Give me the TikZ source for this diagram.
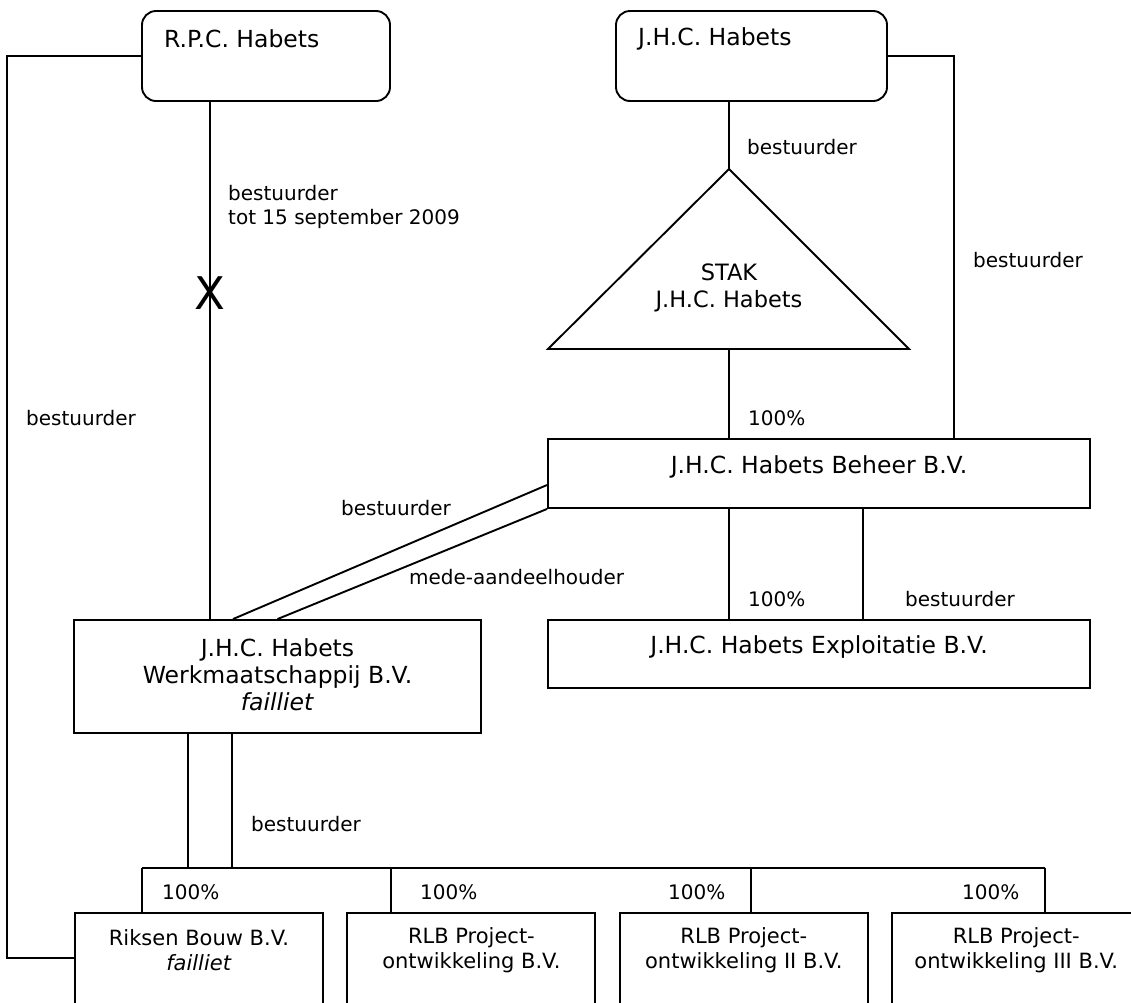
\documentclass[tikz,border=0pt]{standalone}
\usepackage{fontspec}
\setmainfont{DejaVu Sans}
\usetikzlibrary{positioning}

\tikzset{
    entity/.style={draw, line width=1.9pt, inner sep=0pt},
    person/.style={entity, rounded corners=14pt, minimum height=90pt},
    subsid/.style={entity, minimum width=248pt, minimum height=127pt},
    link/.style={line width=1.9pt},
    title/.style={font=\fontsize{23.5}{27}\selectfont, inner sep=0pt},
    lbl/.style={font=\fontsize{20}{24}\selectfont, inner sep=0pt, anchor=west},
    subtxt/.style={font=\fontsize{21}{24.5}\selectfont, inner sep=0pt, align=center}
}

\begin{document}
\begin{tikzpicture}[x=1pt, y=-1pt]
    \useasboundingbox (0,0) rectangle (1131,1002);
    \clip (0,0) rectangle (1131,1002);

    % persons
    \node[person, minimum width=248pt] (rpc) at (266,56) {};
    \node[person, minimum width=271pt] (jhc) at (751.5,56) {};
    \node[title, anchor=west] (rpctxt) at (164,39) {R.P.C. Habets};
    \node[title, anchor=west] (jhctxt) at (638,39) {J.H.C. Habets};

    % stak
    \coordinate (staktop) at (729,169);
    \coordinate (stakleft) at (548,349);
    \coordinate (stakright) at (909,349);
    \draw[link] (staktop) -- (stakleft) -- (stakright) -- cycle;
    \node[inner sep=0pt, align=center, font=\fontsize{22.5}{27}\selectfont] (staktxt) at (729,288) {STAK\\J.H.C. Habets};

    % companies
    \node[entity, minimum width=542pt, minimum height=69pt] (beheer) at (819,473.5) {};
    \node[entity, minimum width=542pt, minimum height=68pt] (expl) at (819,654) {};
    \node[entity, minimum width=407pt, minimum height=113pt] (werk) at (277.5,676.5) {};
    \node[title] (beheertxt) at ([yshift=7pt]beheer.center) {J.H.C. Habets Beheer B.V.};
    \node[title] (expltxt) at ([yshift=7pt]expl.center) {J.H.C. Habets Exploitatie B.V.};
    \node[title, align=center] (werktxt) at ([yshift=2pt]werk.center) {J.H.C. Habets\\Werkmaatschappij B.V.\\\textit{failliet}};

    \node[subsid] (riksen) at (199,976.5) {};
    \node[subsid, right=22.5pt of riksen] (rlbone) {};
    \node[subsid, right=22.5pt of rlbone] (rlbtwo) {};
    \node[subsid, right=22.5pt of rlbtwo] (rlbthree) {};
    \node[subtxt] (riksentxt) at ([yshift=-38pt]riksen.north) {Riksen Bouw B.V.\\\textit{failliet}};
    \node[subtxt] (rlbonetxt) at ([yshift=-38pt]rlbone.north) {RLB Project-\\ontwikkeling B.V.};
    \node[subtxt] (rlbtwotxt) at ([yshift=-38pt]rlbtwo.north) {RLB Project-\\ontwikkeling II B.V.};
    \node[subtxt] (rlbthreetxt) at ([yshift=-38pt]rlbthree.north) {RLB Project-\\ontwikkeling III B.V.};

    % R.P.C. Habets lines
    \coordinate (railL) at (7,500);
    \draw[link] (rpc.west) -| (railL) |- ([yshift=18.5pt]riksen.west);
    \node[inner sep=0pt, font=\fontsize{45}{45}\selectfont] (cross) at (210,293) {X};
    \draw[link] (rpc.south -| cross) -- (werk.north -| cross);

    % J.H.C. Habets lines
    \draw[link] (jhc.south -| staktop) -- (staktop);
    \draw[link] (staktop |- stakleft) -- (staktop |- beheer.north);
    \coordinate (railR) at (954,300);
    \draw[link] (jhc.east) -| (railR) -- (railR |- beheer.north);

    % beheer lines
    \draw[link] (beheer.south -| staktop) -- (expl.north -| staktop);
    \draw[link] ([xshift=44pt]beheer.south) -- ([xshift=44pt]expl.north);
    \draw[link] ([yshift=-11.5pt]beheer.west) -- ([xshift=-44.5pt]werk.north);
    \draw[link] (beheer.south west) -- (werk.north);

    % werkmaatschappij lines
    \coordinate (barL) at (142,868);
    \coordinate (barR) at (1045,868);
    \coordinate (dropone) at (391,868);
    \coordinate (droptwo) at (751,868);
    \coordinate (werkA) at ([xshift=-89.5pt]werk.south);
    \coordinate (werkB) at ([xshift=-45.5pt]werk.south);
    \draw[link] (barL) -- (barR);
    \draw[link] (werkA) -- (werkA |- barL);
    \draw[link] (werkB) -- (werkB |- barL);
    \foreach \drop/\sub in {barL/riksen, dropone/rlbone, droptwo/rlbtwo, barR/rlbthree}
        \draw[link] (\drop) -- (\drop |- \sub.north);

    % labels
    \node[lbl, align=left] (rpcdir) at (228,207) {bestuurder\\tot 15 september 2009};
    \node[lbl] (leftdir) at (26,418) {bestuurder};
    \node[lbl] (jhcdir) at (747,147) {bestuurder};
    \node[lbl] (rightdir) at (973,260) {bestuurder};
    \node[lbl] (stakpct) at (748,418) {100\%};
    \node[lbl] (diagdir) at (341,508) {bestuurder};
    \node[lbl] (diagshare) at (409,577) {mede-aandeelhouder};
    \node[lbl] (explpct) at (748,599) {100\%};
    \node[lbl] (expldir) at (905,599) {bestuurder};
    \node[lbl] (werkdir) at (251,824) {bestuurder};
    \foreach \x in {162,420,668,962}
        \node[lbl] (pct\x) at (\x,892) {100\%};
\end{tikzpicture}
\end{document}
